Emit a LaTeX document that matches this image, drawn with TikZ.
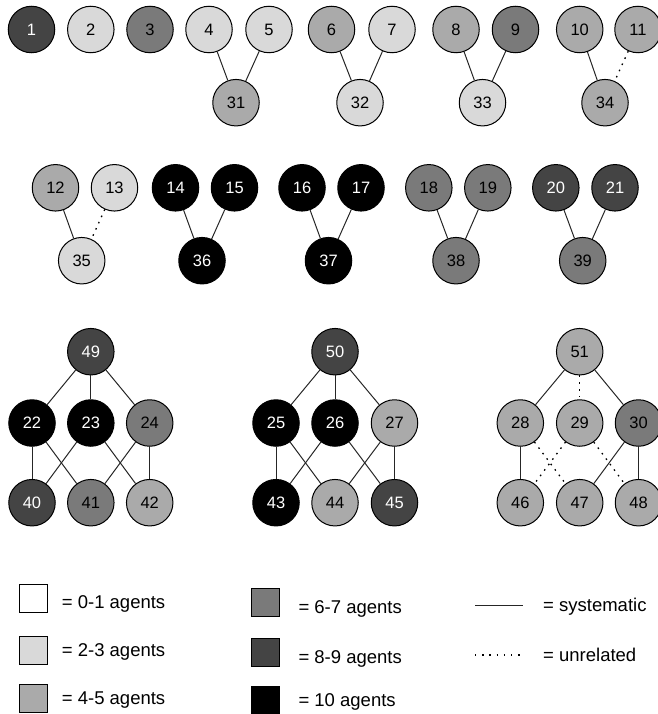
\documentclass[tikz,border=0pt]{standalone}
\usepackage{fontspec}
\setmainfont{Liberation Sans}
\definecolor{cA}{HTML}{FFFFFF}
\definecolor{cB}{HTML}{D9D9D9}
\definecolor{cC}{HTML}{AAAAAA}
\definecolor{cD}{HTML}{7A7A7A}
\definecolor{cE}{HTML}{444444}
\definecolor{cF}{HTML}{000000}
\begin{document}
\begin{tikzpicture}[x=1pt,y=-1pt,
  agent/.style={circle,draw=black,line width=1pt,minimum size=46.5pt,inner sep=0pt,font=\fontsize{16.5}{16.5}\selectfont},
  kB/.style={agent,fill=cB,text=black},
  kC/.style={agent,fill=cC,text=black},
  kD/.style={agent,fill=cD,text=black},
  kE/.style={agent,fill=cE,text=white},
  kF/.style={agent,fill=cF,text=white},
  sys/.style={line width=1pt,draw=black!85},
  unr/.style={line width=1.3pt,draw=black,dash pattern=on 1.6pt off 5.2pt},
  legbox/.style={rectangle,draw=black,line width=1pt,minimum width=28pt,minimum height=28pt,inner sep=0pt},
  legtext/.style={anchor=base west,inner sep=0pt,font=\fontsize{18.5}{18.5}\selectfont}
]
\useasboundingbox (0,0) rectangle (657,714);

% Row 1
\node[kE] (n1) at (31.5,29.5) {1};
\node[kB] (n2) at (90.8,29.5) {2};
\node[kD] (n3) at (150,29.5) {3};
\node[kB] (n4) at (209,29.5) {4};
\node[kB] (n5) at (269,29.5) {5};
\node[kC] (n6) at (331.5,29.5) {6};
\node[kB] (n7) at (392,29.5) {7};
\node[kC] (n8) at (456,29.5) {8};
\node[kD] (n9) at (515.5,29.5) {9};
\node[kC] (n10) at (579.7,29.5) {10};
\node[kC] (n11) at (638,29.5) {11};
\node[kC] (n31) at (236,102.7) {31};
\node[kB] (n32) at (360,102.7) {32};
\node[kB] (n33) at (482.5,102.7) {33};
\node[kC] (n34) at (605,102.7) {34};

% Row 2
\node[kC] (n12) at (55.5,187.8) {12};
\node[kB] (n13) at (114.5,187.8) {13};
\node[kF] (n14) at (175.5,187.8) {14};
\node[kF] (n15) at (234.5,187.8) {15};
\node[kF] (n16) at (302,187.8) {16};
\node[kF] (n17) at (361,187.8) {17};
\node[kD] (n18) at (428.8,187.8) {18};
\node[kD] (n19) at (487.8,187.8) {19};
\node[kE] (n20) at (555.8,187.8) {20};
\node[kE] (n21) at (615,187.8) {21};
\node[kB] (n35) at (81.7,260.7) {35};
\node[kF] (n36) at (202,260.7) {36};
\node[kF] (n37) at (328.5,260.7) {37};
\node[kD] (n38) at (456,260.7) {38};
\node[kD] (n39) at (582.7,260.7) {39};

% Group 1
\node[kE] (n49) at (90.8,351.7) {49};
\node[kF] (n22) at (32,423) {22};
\node[kF] (n23) at (90.8,423) {23};
\node[kD] (n24) at (149.7,423) {24};
\node[kE] (n40) at (32,502.7) {40};
\node[kD] (n41) at (90.8,502.7) {41};
\node[kC] (n42) at (149.7,502.7) {42};

% Group 2
\node[kE] (n50) at (335,351.7) {50};
\node[kF] (n25) at (276,423) {25};
\node[kF] (n26) at (335,423) {26};
\node[kC] (n27) at (394.5,423) {27};
\node[kF] (n43) at (276,502.7) {43};
\node[kC] (n44) at (335,502.7) {44};
\node[kE] (n45) at (394.5,502.7) {45};

% Group 3
\node[kC] (n51) at (579.7,351.7) {51};
\node[kC] (n28) at (520.3,423) {28};
\node[kC] (n29) at (579.7,423) {29};
\node[kD] (n30) at (638.5,423) {30};
\node[kC] (n46) at (520.3,502.7) {46};
\node[kC] (n47) at (579.7,502.7) {47};
\node[kC] (n48) at (638.5,502.7) {48};

% Edges row 1
\draw[sys] (n4) -- (n31);
\draw[sys] (n5) -- (n31);
\draw[sys] (n6) -- (n32);
\draw[sys] (n7) -- (n32);
\draw[sys] (n8) -- (n33);
\draw[sys] (n9) -- (n33);
\draw[sys] (n10) -- (n34);
\draw[unr] (n11) -- (n34);
% Edges row 2
\draw[sys] (n12) -- (n35);
\draw[unr] (n13) -- (n35);
\draw[sys] (n14) -- (n36);
\draw[sys] (n15) -- (n36);
\draw[sys] (n16) -- (n37);
\draw[sys] (n17) -- (n37);
\draw[sys] (n18) -- (n38);
\draw[sys] (n19) -- (n38);
\draw[sys] (n20) -- (n39);
\draw[sys] (n21) -- (n39);
% Group 1 edges
\draw[sys] (n49) -- (n22);
\draw[sys] (n49) -- (n23);
\draw[sys] (n49) -- (n24);
\draw[sys] (n22) -- (n40);
\draw[sys] (n22) -- (n41);
\draw[sys] (n23) -- (n40);
\draw[sys] (n23) -- (n42);
\draw[sys] (n24) -- (n41);
\draw[sys] (n24) -- (n42);
% Group 2 edges
\draw[sys] (n50) -- (n25);
\draw[sys] (n50) -- (n26);
\draw[sys] (n50) -- (n27);
\draw[sys] (n25) -- (n43);
\draw[sys] (n25) -- (n44);
\draw[sys] (n26) -- (n43);
\draw[sys] (n26) -- (n45);
\draw[sys] (n27) -- (n44);
\draw[sys] (n27) -- (n45);
% Group 3 edges
\draw[sys] (n51) -- (n28);
\draw[unr] (n51) -- (n29);
\draw[sys] (n51) -- (n30);
\draw[sys] (n28) -- (n46);
\draw[unr] (n28) -- (n47);
\draw[unr] (n29) -- (n46);
\draw[unr] (n29) -- (n48);
\draw[sys] (n30) -- (n47);
\draw[sys] (n30) -- (n48);

% Legend column 1
\node[legbox,fill=cA] (la) at (33.3,598) {};
\node[legbox,fill=cB] (lb) at (33.3,650) {};
\node[legbox,fill=cC] (lc) at (33.3,698.5) {};
\node[legtext] (ta) at (61.7,608.3) {= 0-1 agents};
\node[legtext] (tb) at (61.7,656) {= 2-3 agents};
\node[legtext] (tc) at (61.7,704) {= 4-5 agents};
% Legend column 2
\node[legbox,fill=cD] (ld) at (265.2,602.8) {};
\node[legbox,fill=cE] (le) at (265.2,652.3) {};
\node[legbox,fill=cF] (lf) at (265.2,700) {};
\node[legtext] (td) at (298.3,613.3) {= 6-7 agents};
\node[legtext] (te) at (298.3,663.3) {= 8-9 agents};
\node[legtext] (tf) at (298.3,706.7) {= 10 agents};
% Legend column 3
\coordinate (s1) at (475,605);
\coordinate (s2) at (522.7,605);
\coordinate (u1) at (475,655);
\coordinate (u2) at (522.7,655);
\draw[sys] (s1) -- (s2);
\draw[line width=1.3pt,draw=black,dash pattern=on 1.4pt off 5.8pt] (u1) -- (u2);
\node[legtext] (tg) at (543,611) {= systematic};
\node[legtext] (th) at (543,661) {= unrelated};
\end{tikzpicture}
\end{document}
